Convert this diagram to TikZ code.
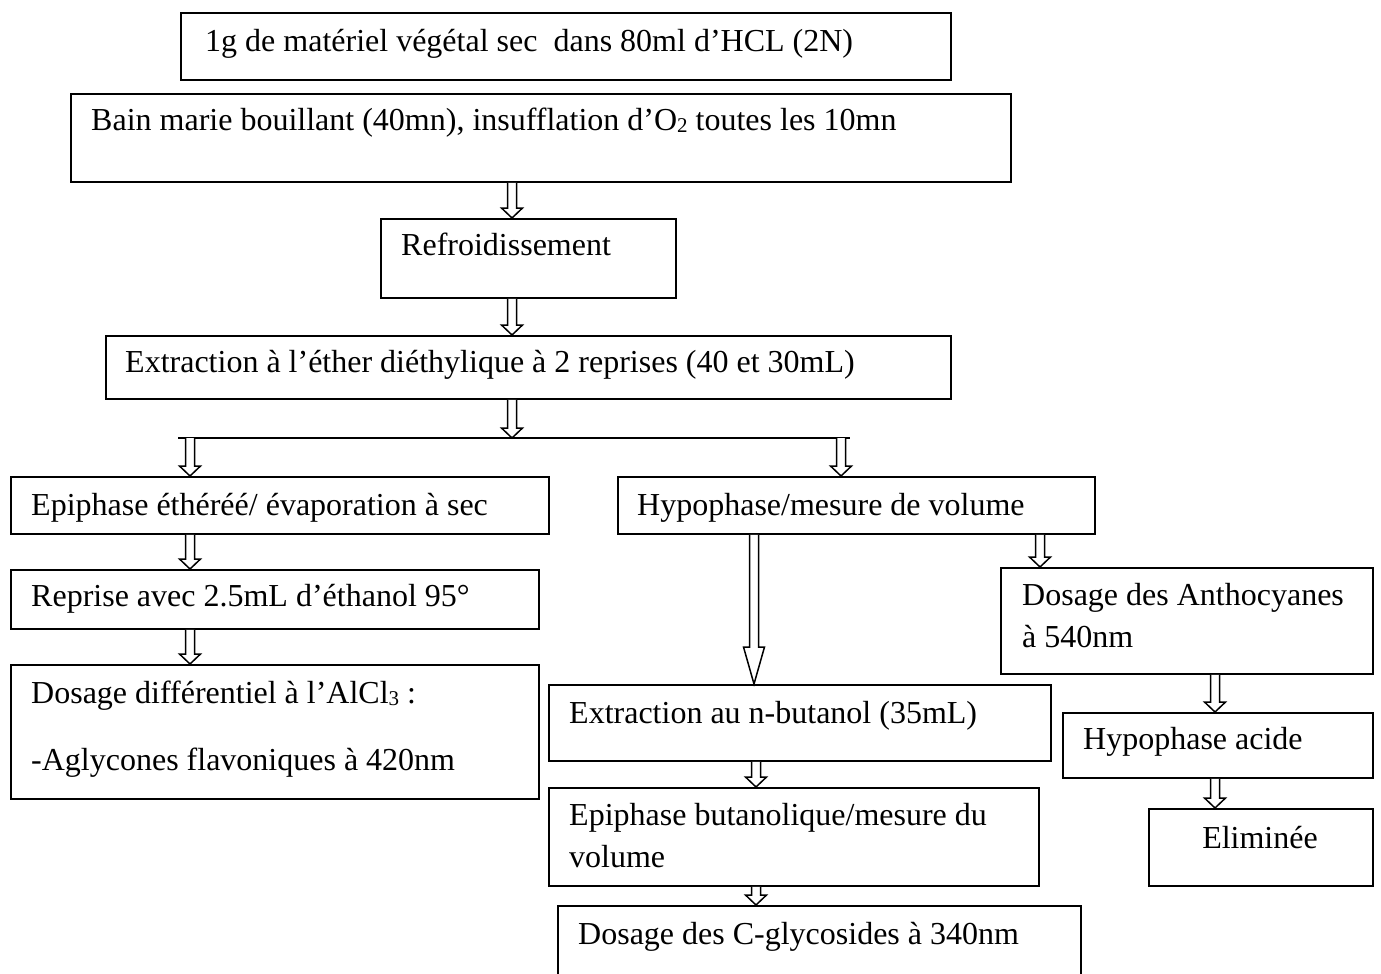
\documentclass[tikz,border=0pt]{standalone}
\usepackage{fontspec}
\setmainfont{Liberation Serif}
\usetikzlibrary{calc}
\tikzset{
  box/.style={draw, line width=1.9pt, inner sep=0pt, anchor=north west},
  txt/.style={inner sep=0pt, anchor=base west, font=\fontsize{32}{40}\selectfont},
  arrline/.style={draw, line width=1.5pt, fill=white, line join=miter},
  hline/.style={line width=2pt}
}
\newcommand\sbs[1]{\raisebox{-0.2ex}{\fontsize{21}{21}\selectfont #1}}
\newcommand\bxn[5]{\node[box, minimum width={(#4-#2)*1pt}, minimum height={(#5-#3)*1pt}] (#1) at (#2,#3) {};}
\newcommand\barr[4]{\draw[arrline] let \p1=(#2 -| #1,0), \p2=(#3 -| #1,0) in
  (\x1-4.5pt,\y1) -- (\x1-4.5pt,\y2+#4pt) -- (\x1-10.5pt,\y2+#4pt) -- (\x1,\y2) -- (\x1+10.5pt,\y2+#4pt) -- (\x1+4.5pt,\y2+#4pt) -- (\x1+4.5pt,\y1);}
\begin{document}
\begin{tikzpicture}[x=1pt,y=-1pt]
\useasboundingbox (0,0) rectangle (1381,974);
% boxes
\bxn{b1}{180}{12}{950}{79}
\bxn{b2}{70}{93}{1010}{181}
\bxn{b3}{380}{218}{675}{297}
\bxn{b4}{105}{335}{950}{398}
\bxn{b5}{10}{476}{548}{533}
\bxn{b6}{617}{476}{1094}{533}
\bxn{b7}{10}{569}{538}{628}
\bxn{b8}{10}{664}{538}{798}
\bxn{b9}{548}{684}{1050}{760}
\bxn{b10}{548}{787}{1038}{885}
\bxn{b11}{557}{905}{1080}{990}
\bxn{b12}{1000}{567}{1372}{673}
\bxn{b13}{1062}{712}{1372}{777}
\bxn{b14}{1148}{808}{1372}{885}
% texts
\node[txt] (t1) at (205,52) {1g de matériel végétal sec\ \ dans 80ml d’HCL (2N)};
\node[txt] (t2) at (91,130) {Bain marie bouillant (40mn), insufflation d’O\sbs{2} toutes les 10mn};
\node[txt] (t3) at (401,255) {Refroidissement};
\node[txt] (t4) at (125,372) {Extraction à l’éther diéthylique à 2 reprises (40 et 30mL)};
\node[txt] (t5) at (31,515) {Epiphase éthéréé/ évaporation à sec};
\node[txt] (t6) at (637,515) {Hypophase/mesure de volume};
\node[txt] (t7) at (31,606) {Reprise avec 2.5mL d’éthanol 95°};
\node[txt] (t8a) at (31,703) {Dosage différentiel à l’AlCl\sbs{3} :};
\node[txt] (t8b) at (31,770) {-Aglycones flavoniques à 420nm};
\node[txt] (t9) at (569,723) {Extraction au n-butanol (35mL)};
\node[txt] (t10a) at (569,825) {Epiphase butanolique/mesure du};
\node[txt] (t10b) at (569,867) {volume};
\node[txt] (t11) at (578,944) {Dosage des C-glycosides à 340nm};
\node[txt] (t12a) at (1022,605) {Dosage des Anthocyanes};
\node[txt] (t12b) at (1022,647) {à 540nm};
\node[txt] (t13) at (1083,749) {Hypophase acide};
\node[txt, anchor=base] (t14) at (1260,848) {Eliminée};
% split line
\coordinate (hl) at (178,438);
\coordinate (hr) at (850,438);
\draw[hline] (hl) -- (hr);
% arrows
\barr{512}{b2.south}{b3.north}{10}
\barr{512}{b3.south}{b4.north}{10}
\barr{512}{b4.south}{hl}{10}
\barr{190}{hl}{b5.north}{10}
\barr{841}{hl}{b6.north}{10}
\barr{190}{b5.south}{b7.north}{10}
\barr{190}{b7.south}{b8.north}{10}
\barr{754}{b6.south}{b9.north}{37}
\barr{756}{b9.south}{b10.north}{10}
\barr{756}{b10.south}{b11.north}{10}
\barr{1040}{b6.south}{b12.north}{10}
\barr{1215}{b12.south}{b13.north}{10}
\barr{1215}{b13.south}{b14.north}{10}
\end{tikzpicture}
\end{document}
